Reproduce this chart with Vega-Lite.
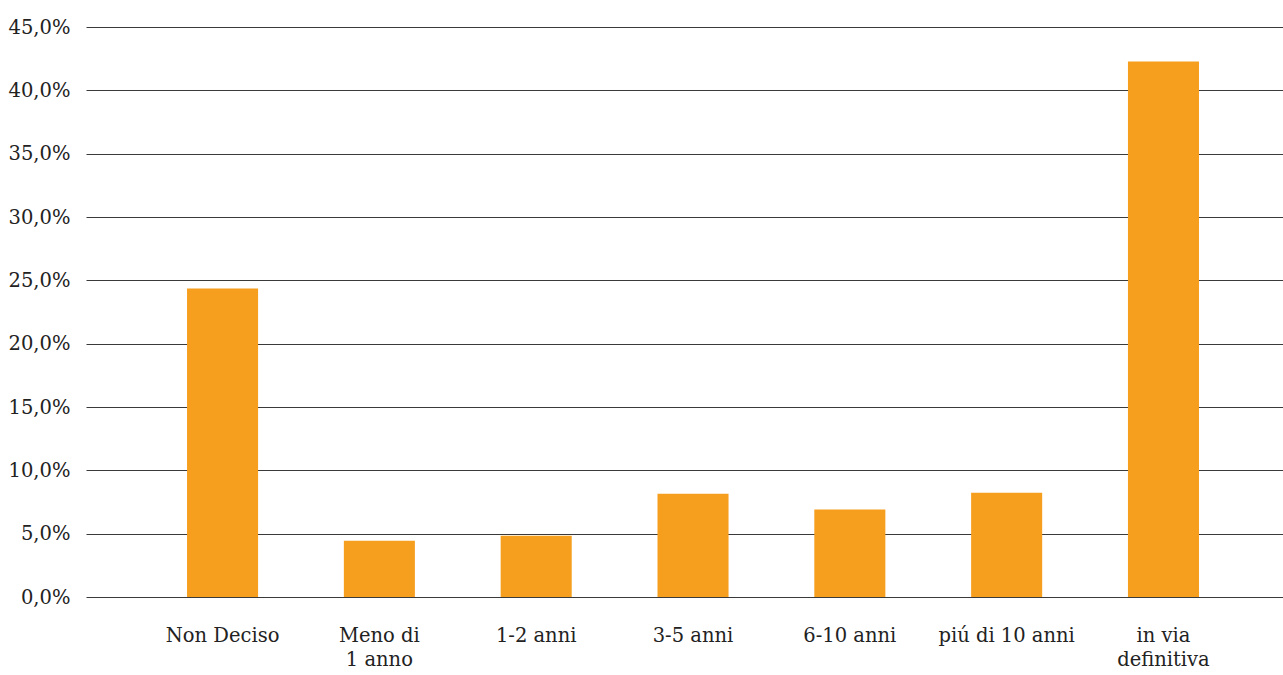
{
  "$schema": "https://vega.github.io/schema/vega-lite/v6.json",
  "autosize": "none",
  "padding": {"left": 86, "top": 27, "right": 0, "bottom": 78},
  "width": 1197,
  "height": 570,
  "background": "white",
  "data": {
    "values": [
      {"durata": "Non Deciso", "quota": 24.35},
      {"durata": "Meno di 1 anno", "quota": 4.45},
      {"durata": "1-2 anni", "quota": 4.84},
      {"durata": "3-5 anni", "quota": 8.16},
      {"durata": "6-10 anni", "quota": 6.9},
      {"durata": "piú di 10 anni", "quota": 8.24},
      {"durata": "in via definitiva", "quota": 42.28}
    ]
  },
  "mark": {"type": "bar", "color": "#F69E1E"},
  "encoding": {
    "x": {
      "field": "durata",
      "type": "nominal",
      "sort": null,
      "title": null,
      "scale": {"paddingInner": 0.547, "paddingOuter": 0.59, "align": 0.546, "round": false},
      "axis": {
        "domain": false,
        "ticks": false,
        "grid": false,
        "labelAngle": 0,
        "labelPadding": 29,
        "labelBaseline": "top",
        "labelLineHeight": 24,
        "labelExpr": "datum.label == 'Meno di 1 anno' ? ['Meno di', '1 anno'] : datum.label == 'in via definitiva' ? ['in via', 'definitiva'] : datum.label"
      }
    },
    "y": {
      "field": "quota",
      "type": "quantitative",
      "title": null,
      "scale": {"domain": [0, 45], "nice": false, "zero": true},
      "axis": {
        "values": [0, 5, 10, 15, 20, 25, 30, 35, 40, 45],
        "domain": false,
        "ticks": false,
        "grid": true,
        "gridColor": "#3a3a3a",
        "gridWidth": 1,
        "gridOpacity": 1,
        "labelPadding": 16,
        "labelExpr": "replace(format(datum.value, '.1f'), '.', ',') + '%'"
      }
    }
  },
  "config": {
    "view": {"stroke": null},
    "axis": {
      "labelFont": "DejaVu Serif",
      "labelFontSize": 19.5,
      "labelColor": "#222222"
    }
  }
}
